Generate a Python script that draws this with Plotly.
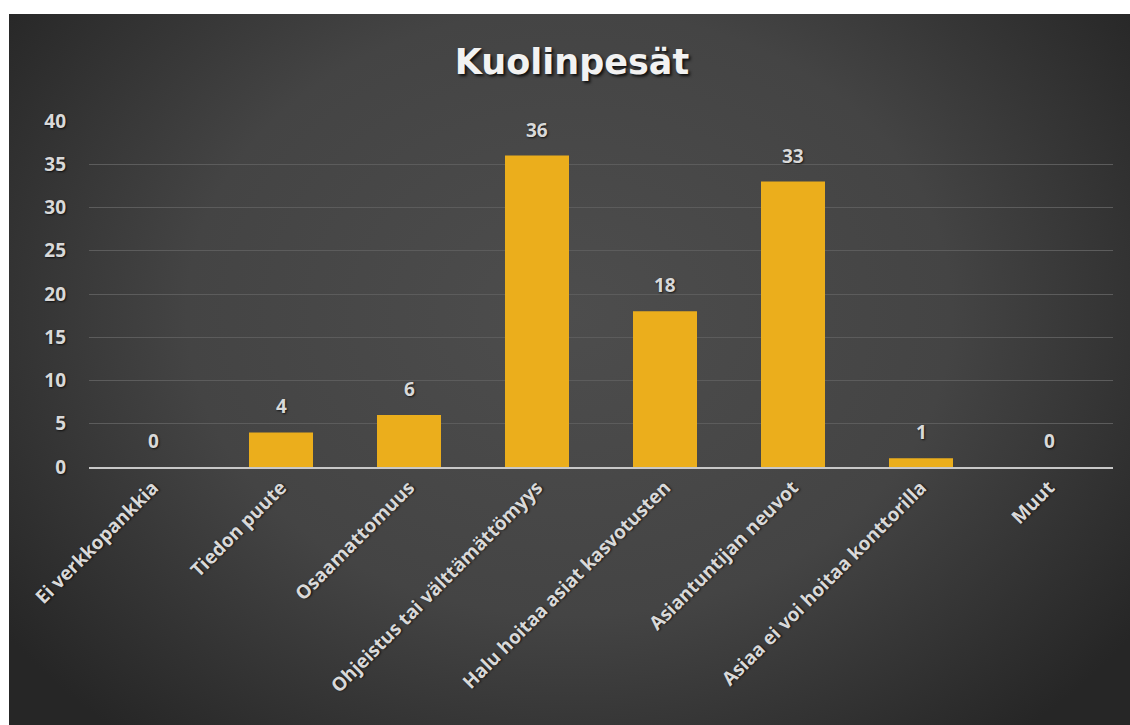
import base64
import plotly.graph_objects as go

# Survey answers for estates (kuolinpesät)
categories = [
    "Ei verkkopankkia",
    "Tiedon puute",
    "Osaamattomuus",
    "Ohjeistus tai välttämättömyys",
    "Halu hoitaa asiat kasvotusten",
    "Asiantuntijan neuvot",
    "Asiaa ei voi hoitaa konttorilla",
    "Muut",
]
counts = [0, 4, 6, 36, 18, 33, 1, 0]
y_ticks = [0, 5, 10, 15, 20, 25, 30, 35, 40]

W, H = 1130, 725
ML, MR, MT, MB = 89, 17, 121, 258
PW, PH = W - ML - MR, H - MT - MB

# Dark radial-gradient backdrop, drawn as an inline SVG image
bg_svg = (
    '<svg xmlns="http://www.w3.org/2000/svg" width="1121" height="711" '
    'viewBox="0 0 1121 711" preserveAspectRatio="none">'
    '<defs><radialGradient id="g" cx="0.5" cy="0.42" r="0.62" '
    'gradientTransform="translate(0.5,0.42) scale(1,1.25) translate(-0.5,-0.42)">'
    '<stop offset="0" stop-color="#4d4d4d"/>'
    '<stop offset="0.55" stop-color="#444444"/>'
    '<stop offset="1" stop-color="#262626"/>'
    '</radialGradient></defs>'
    '<rect width="1121" height="711" fill="url(#g)"/></svg>'
)
bg_uri = "data:image/svg+xml;base64," + base64.b64encode(bg_svg.encode()).decode()

x0_px, y0_px = 9, 14
bg_x = (x0_px - ML) / PW
bg_y = 1 + (MT - y0_px) / PH
bg_w = (W - x0_px) / PW
bg_h = (H - y0_px) / PH

shadow = "1px 1px 2px rgba(0,0,0,0.7)"
label_font = dict(family="Open Sans", size=19, color="#d9d9d9", weight="bold",
                  shadow=shadow)

fig = go.Figure(
    go.Bar(
        x=categories,
        y=counts,
        marker=dict(color="#ebae1c", line=dict(color="#5a4410", width=0)),
        width=0.5,
        hoverinfo="x+y",
    )
)

# Value labels above each bar
for cat, val in zip(categories, counts):
    fig.add_annotation(
        x=cat,
        y=val,
        text=str(val),
        showarrow=False,
        yanchor="middle",
        yshift=26,
        font=label_font,
    )

fig.update_layout(
    width=W,
    height=H,
    margin=dict(l=ML, r=MR, t=MT, b=MB),
    paper_bgcolor="white",
    plot_bgcolor="rgba(0,0,0,0)",
    showlegend=False,
    title=dict(
        text="Kuolinpesät",
        x=572 / W,
        xref="container",
        y=1 - 62 / H,
        yref="container",
        xanchor="center",
        yanchor="middle",
        font=dict(family="DejaVu Sans", size=35, color="#f2f2f2", weight="bold",
                  shadow="2px 2px 3px rgba(0,0,0,0.8)"),
    ),
    images=[
        dict(
            source=bg_uri,
            xref="paper",
            yref="paper",
            x=bg_x,
            y=bg_y,
            sizex=bg_w,
            sizey=bg_h,
            xanchor="left",
            yanchor="top",
            sizing="stretch",
            layer="below",
        )
    ],
    xaxis=dict(
        tickangle=-45,
        tickfont=dict(family="Open Sans", size=19, color="#d9d9d9", weight="bold",
                      shadow=shadow),
        showgrid=False,
        showline=True,
        linecolor="#c8c8c8",
        linewidth=2,
        ticks="",
        fixedrange=True,
    ),
    yaxis=dict(
        range=[0, 40],
        tickvals=y_ticks,
        ticktext=[str(t) for t in y_ticks],
        tickfont=label_font,
        showgrid=True,
        gridcolor="#5c5c5c",
        gridwidth=1,
        zeroline=False,
        showline=False,
        ticks="",
        ticklabelstandoff=22,
        fixedrange=True,
    ),
)

fig.write_html("out.html")
